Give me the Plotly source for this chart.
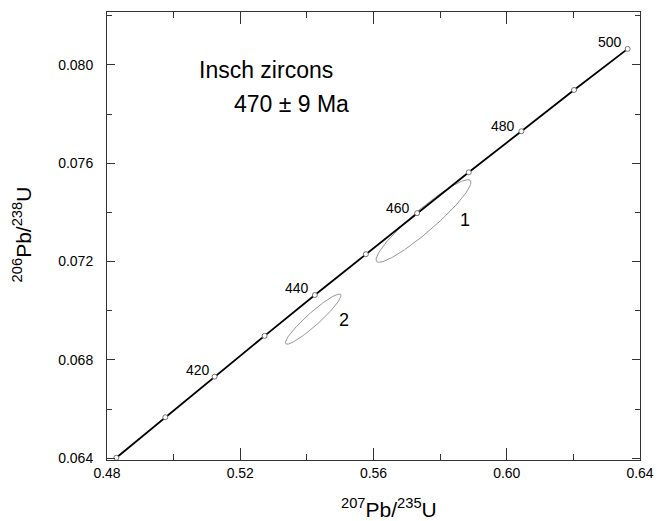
import numpy as np
import plotly.graph_objects as go

# Concordia age markers (Ma) and their ratios
ages = [400, 410, 420, 430, 440, 450, 460, 470, 480, 490, 500]
pb207_u235 = [0.4828, 0.4975, 0.5123, 0.5273, 0.5424, 0.5577, 0.5731, 0.5886, 0.6044, 0.6202, 0.6363]
pb206_u238 = [0.06402, 0.06567, 0.06732, 0.06898, 0.07064, 0.07230, 0.07397, 0.07563, 0.07730, 0.07898, 0.08065]

# Age labels on concordia
age_label_text = ["420", "440", "460", "480", "500"]
age_label_x = [0.5074, 0.5370, 0.5675, 0.5990, 0.6310]
age_label_y = [0.06759, 0.07092, 0.07417, 0.07753, 0.08091]

# Error ellipses: centre, half-extents, correlation
ell_names = ["1", "2"]
ell_cx = [0.5750, 0.5419]
ell_cy = [0.07365, 0.06966]
ell_sx = [0.01425, 0.00835]
ell_sy = [0.00168, 0.00102]
ell_rho = [0.936, 0.940]
ell_label_x = [0.5875, 0.5510]
ell_label_y = [0.07370, 0.06963]

x_range = [0.48, 0.64]
y_range = [0.06393, 0.08215]
x_ticks = [0.48, 0.52, 0.56, 0.60, 0.64]
y_ticks = [0.064, 0.068, 0.072, 0.076, 0.080]

FONT = "Liberation Sans, Arial, Helvetica, sans-serif"

fig = go.Figure()

# ellipses
t = np.linspace(0, 2 * np.pi, 200)
for cx, cy, sx, sy, r in zip(ell_cx, ell_cy, ell_sx, ell_sy, ell_rho):
    ex = cx + sx * np.cos(t)
    ey = cy + sy * (r * np.cos(t) + np.sqrt(1 - r * r) * np.sin(t))
    fig.add_trace(go.Scatter(x=ex, y=ey, mode="lines",
                             line=dict(color="#8a8a8a", width=0.9),
                             hoverinfo="skip", showlegend=False))

# concordia
fig.add_trace(go.Scatter(x=pb207_u235, y=pb206_u238, mode="lines+markers",
                         line=dict(color="black", width=1.8),
                         marker=dict(symbol="circle", size=5, color="white",
                                     line=dict(color="#555", width=0.8)),
                         text=[f"{a} Ma" for a in ages],
                         showlegend=False, cliponaxis=False))

for txt, x, y in zip(age_label_text, age_label_x, age_label_y):
    fig.add_annotation(x=x, y=y, text=txt, showarrow=False,
                       font=dict(size=14, color="black", family=FONT))

for txt, x, y in zip(ell_names, ell_label_x, ell_label_y):
    fig.add_annotation(x=x, y=y, text=txt, showarrow=False,
                       font=dict(size=18, color="black", family=FONT))

fig.add_annotation(x=0.5276, y=0.0798, text="Insch zircons", showarrow=False,
                   font=dict(size=23, color="black", family=FONT))
fig.add_annotation(x=0.5354, y=0.07842, text="470 ± 9 Ma", showarrow=False,
                   font=dict(size=23, color="black", family=FONT))

# axis titles
fig.add_annotation(xref="paper", yref="paper", x=0.53, y=-0.108,
                   xanchor="center", yanchor="middle",
                   text="<sup>207</sup>Pb/<sup>235</sup>U", showarrow=False,
                   font=dict(size=21, color="black", family=FONT))
fig.add_annotation(xref="paper", yref="paper", x=-0.16, y=0.503,
                   xanchor="center", yanchor="middle",
                   text="<sup>206</sup>Pb/<sup>238</sup>U", showarrow=False,
                   textangle=-90,
                   font=dict(size=21, color="black", family=FONT))

axis_common = dict(showgrid=False, zeroline=False, showline=True,
                   linecolor="#333", linewidth=1, mirror="ticks",
                   ticks="inside", tickcolor="#333", tickwidth=1,
                   automargin=False, ticklabeloverflow="allow",
                   tickfont=dict(size=14, color="black", family=FONT))

fig.update_xaxes(range=x_range, tickvals=x_ticks,
                 ticktext=[f"{v:.2f}" for v in x_ticks], ticklen=12,
                 ticklabelstandoff=0,
                 minor=dict(dtick=0.02, tick0=0.48, ticklen=6, ticks="inside",
                            tickcolor="#333", tickwidth=1, showgrid=False),
                 **axis_common)
fig.update_yaxes(range=y_range, tickvals=y_ticks,
                 ticktext=[f"{v:.3f}" for v in y_ticks], ticklen=8,
                 ticklabelstandoff=10,
                 minor=dict(dtick=0.002, tick0=0.064, ticklen=5, ticks="inside",
                            tickcolor="#333", tickwidth=1, showgrid=False),
                 **axis_common)

fig.update_layout(width=661, height=521,
                  margin=dict(l=107, r=21, t=12, b=61),
                  plot_bgcolor="white", paper_bgcolor="white",
                  font=dict(family=FONT, color="black"))

fig.write_html("out.html", config={"displayModeBar": False},
               post_script="document.body.style.margin='0';document.body.style.overflow='hidden';")
